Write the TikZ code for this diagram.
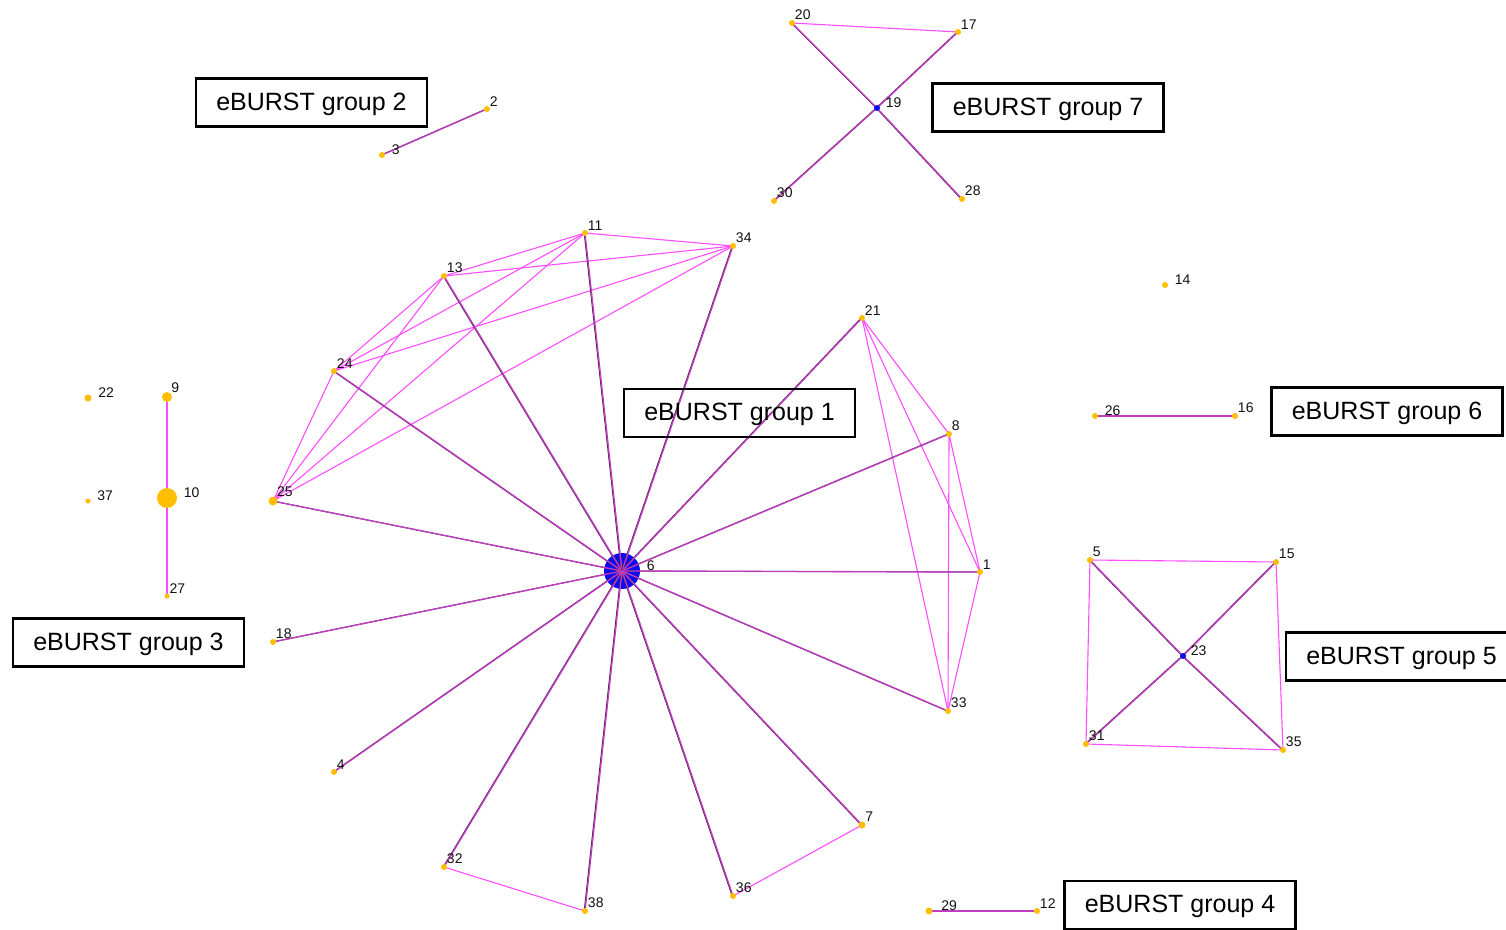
\documentclass[tikz,border=0pt]{standalone}
\usepackage{fontspec}
\setmainfont{Liberation Sans}
\usetikzlibrary{positioning}
\definecolor{ink}      {HTML}{111111}
\definecolor{stdot}    {HTML}{FFBE00}
\definecolor{founder}  {HTML}{0C0CF0}
\definecolor{tiepink}  {HTML}{FF4DFF}
\definecolor{spokemag} {HTML}{C03CC0}
\definecolor{spokeshade}{HTML}{4A204A}
\pgfdeclarelayer{hubs}
\pgfdeclarelayer{links}
\pgfsetlayers{hubs,links,main}
\tikzset{
  % --- nodes
  st/.style    = {circle, fill=stdot, inner sep=0pt, minimum size=6pt},
  fnd/.style   = {st, fill=founder},
  num/.style   = {font=\fontsize{14}{14}\selectfont, text=ink, inner sep=0.5pt},
  numr/.style  = {num, anchor=south west, xshift=6pt},
  grp/.style   = {draw=black, line width=2.3pt, inner sep=0pt, minimum width=231pt,
                  minimum height=48pt, text depth=2pt, font=\fontsize{25}{25}\selectfont},
  % --- edges
  spoke/.style = {draw=spokemag, line width=1.3pt,
                  preaction={draw=spokeshade, line width=1pt, transform canvas={xshift=-0.8pt}}},
  tie/.style   = {draw=tiepink, line width=1.1pt},
}

\begin{document}
\begin{tikzpicture}[x=1pt,y=-1pt]
  \useasboundingbox (0,0) rectangle (1506,929);

  % --- group 1, founder 6
  \begin{pgfonlayer}{hubs}
    \node[fnd, minimum size=36pt, label={[numr]0:6}] (s6) at (622,571) {};
  \end{pgfonlayer}
  \node[st, label={[num]45:11}] (s11) at (585,233) {};
  \node[st, label={[num]45:13}] (s13) at (444,276) {};
  \node[st, label={[num]45:34}] (s34) at (733,246) {};
  \node[st, label={[num]45:24}] (s24) at (334,371) {};
  \node[st, minimum size=9pt, label={[num]45:25}] (s25) at (273,501) {};
  \node[st, label={[num]45:21}] (s21) at (862,318) {};
  \node[st, label={[num]45:8}]  (s8)  at (949,434) {};
  \node[st, label={[num]45:1}]  (s1)  at (980,572) {};
  \node[st, label={[num]45:33}] (s33) at (948,711) {};
  \node[st, minimum size=7pt, label={[num]45:7}] (s7) at (862,825) {};
  \node[st, label={[num]45:36}] (s36) at (733,896) {};
  \node[st, label={[num]45:38}] (s38) at (585,911) {};
  \node[st, label={[num]45:32}] (s32) at (444,867) {};
  \node[st, label={[num]45:4}]  (s4)  at (334,772) {};
  \node[st, label={[num]45:18}] (s18) at (273,642) {};

  % --- group 2
  \node[st, label={[num]45:2}] (s2) at (487,109) {};
  \node[st, label={[numr]0:3}] (s3) at (382,155) {};

  % --- group 3 and singletons
  \node[st, minimum size=10pt, label={[num]45:9}] (s9) at (167,397) {};
  \node[st, minimum size=20pt, label={[numr]0:10}] (s10) at (167,498) {};
  \node[st, minimum size=5pt, label={[num]45:27}] (s27) at (167,596) {};
  \node[st, minimum size=7pt, label={[numr]0:22}] (s22) at (88,398) {};
  \node[st, minimum size=5pt, label={[numr]0:37}] (s37) at (88,501) {};
  \node[st, label={[numr]0:14}] (s14) at (1165,285) {};

  % --- group 4
  \node[st, minimum size=7pt, label={[numr,xshift=2pt]0:29}] (s29) at (929,911) {};
  \node[st, label={[num]45:12}] (s12) at (1037,911) {};

  % --- group 5
  \node[fnd, label={[numr,xshift=-2pt]0:23}] (s23) at (1183,656) {};
  \node[st, label={[num]45:5}]  (s5)  at (1090,560) {};
  \node[st, label={[num]45:15}] (s15) at (1276,562) {};
  \node[st, label={[num]45:31}] (s31) at (1086,744) {};
  \node[st, label={[num]45:35}] (s35) at (1283,750) {};

  % --- group 6
  \node[st, label={[numr]0:26}] (s26) at (1095,416) {};
  \node[st, label={[num]45:16}] (s16) at (1235,416) {};

  % --- group 7
  \node[fnd, label={[numr,xshift=-1pt]0:19}] (s19) at (877,108) {};
  \node[st, label={[num]45:20}] (s20) at (792,23) {};
  \node[st, label={[num]45:17}] (s17) at (958,32) {};
  \node[st, label={[num]45:30}] (s30) at (774,201) {};
  \node[st, label={[num]45:28}] (s28) at (962,199) {};

  \begin{pgfonlayer}{links}
    % ties between variants
    \draw[tie] (s11.center)--(s13.center); \draw[tie] (s11.center)--(s34.center);
    \draw[tie] (s11.center)--(s24.center); \draw[tie] (s11.center)--(s25.center);
    \draw[tie] (s13.center)--(s34.center); \draw[tie] (s13.center)--(s24.center);
    \draw[tie] (s13.center)--(s25.center); \draw[tie] (s34.center)--(s24.center);
    \draw[tie] (s34.center)--(s25.center); \draw[tie] (s24.center)--(s25.center);
    \draw[tie] (s21.center)--(s8.center);  \draw[tie] (s21.center)--(s1.center);
    \draw[tie] (s21.center)--(s33.center); \draw[tie] (s8.center)--(s1.center);
    \draw[tie] (s8.center)--(s33.center);  \draw[tie] (s1.center)--(s33.center);
    \draw[tie] (s32.center)--(s38.center); \draw[tie] (s36.center)--(s7.center);
    \draw[tie] (s20.center)--(s17.center);
    \draw[tie] (s5.center)--(s15.center);  \draw[tie] (s15.center)--(s35.center);
    \draw[tie] (s35.center)--(s31.center); \draw[tie] (s31.center)--(s5.center);
    \draw[tie] (s9.center)--(s10.center);  \draw[tie] (s10.center)--(s27.center);
    % founder spokes
    \foreach \v in {11,13,24,25,34,21,8,1,33,7,36,38,32,4,18}
      \draw[spoke] (s6.center)--(s\v.center);
    \foreach \v in {20,17,30,28}
      \draw[spoke] (s19.center)--(s\v.center);
    \foreach \v in {5,15,31,35}
      \draw[spoke] (s23.center)--(s\v.center);
    \draw[spoke] (s3.center)--(s2.center);
    \draw[spoke] (s26.center)--(s16.center);
    \draw[spoke] (s29.center)--(s12.center);
  \end{pgfonlayer}

  % --- group captions
  \node[grp] (g1) at (739.5,413)   {eBURST group 1};
  \node[grp] (g2) at (311.5,102.5) {eBURST group 2};
  \node[grp] (g3) at (128.5,642.5) {eBURST group 3};
  \node[grp] (g4) at (1180,905)    {eBURST group 4};
  \node[grp] (g5) at (1401.5,656.5){eBURST group 5};
  \node[grp] (g6) at (1387,411.5)  {eBURST group 6};
  \node[grp] (g7) at (1048,107.5)  {eBURST group 7};
\end{tikzpicture}
\end{document}
